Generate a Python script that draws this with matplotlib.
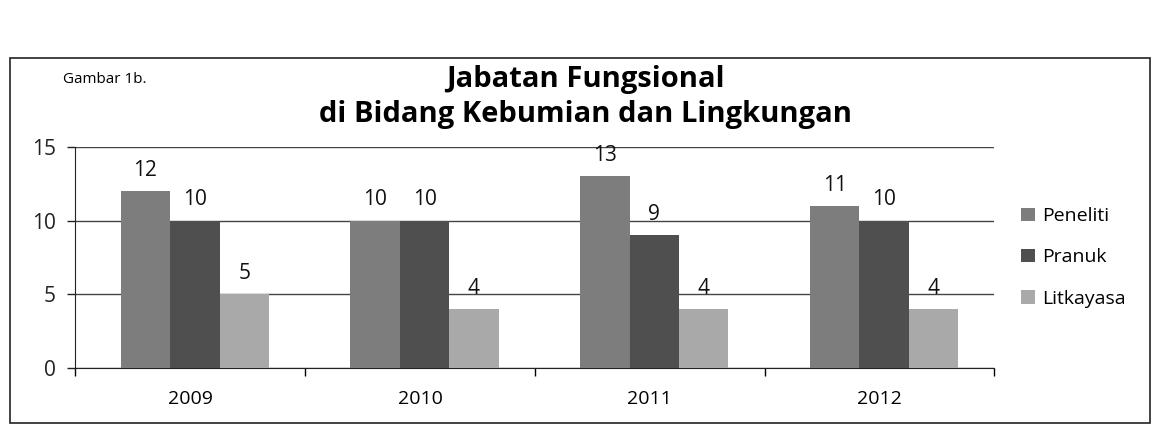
import matplotlib.pyplot as plt
import matplotlib.patches as mpatches
import numpy as np

years = ['2009', '2010', '2011', '2012']
peneliti = [12, 10, 13, 11]
pranuk = [10, 10, 9, 10]
litkayasa = [5, 4, 4, 4]
series_names = ['Peneliti', 'Pranuk', 'Litkayasa']
colors = ['#7d7d7d', '#4f4f4f', '#a9a9a9']

plt.rcParams['font.family'] = ['Open Sans', 'DejaVu Sans']

fig = plt.figure(figsize=(11.59, 4.32), dpi=100)
fig.patch.set_facecolor('white')

# chart border
fig.add_artist(mpatches.Rectangle((0.009, 0.02), 0.983, 0.845, transform=fig.transFigure,
                                  fill=False, edgecolor='#222222', linewidth=1.2))

ax = fig.add_axes([0.065, 0.148, 0.793, 0.512])

x = np.arange(len(years))
w = 0.215
for k, (vals, name, c) in enumerate(zip([peneliti, pranuk, litkayasa], series_names, colors)):
    pos = x + (k - 1) * w + 0.02
    ax.bar(pos, vals, w, color=c, label=name, zorder=3)
    for p, v in zip(pos, vals):
        ax.text(p, v + 0.7, str(v), ha='center', va='bottom', fontsize=15, color='#111111')

ax.set_xlim(-0.5, len(years) - 0.5)
ax.set_ylim(0, 15)
ax.set_yticks([0, 5, 10, 15])
ax.tick_params(axis='y', labelsize=15, length=6, width=1, colors='#222222', pad=8)
ax.set_xticks(x)
ax.set_xticklabels(years, fontsize=14)
ax.tick_params(axis='x', length=0, pad=16)
ax.set_xticks(np.arange(len(years) + 1) - 0.5, minor=True)
ax.tick_params(axis='x', which='minor', length=6, width=1, direction='out')
ax.grid(axis='y', color='#444444', linewidth=1, zorder=0)
for s in ['top', 'right']:
    ax.spines[s].set_visible(False)
ax.spines['left'].set_color('#222222')
ax.spines['bottom'].set_color('#222222')

ax.legend(loc='center left', bbox_to_anchor=(1.01, 0.5), frameon=False, fontsize=14,
          handlelength=0.7, handleheight=0.7, handletextpad=0.4, labelspacing=1.2)

fig.text(0.505, 0.815, 'Jabatan Fungsional', ha='center', va='center',
         fontsize=21, fontweight='bold')
fig.text(0.505, 0.735, 'di Bidang Kebumian dan Lingkungan', ha='center', va='center',
         fontsize=21, fontweight='bold')
fig.text(0.054, 0.815, 'Gambar 1b.', ha='left', va='center', fontsize=11)

fig.savefig('out.png', dpi=100)
